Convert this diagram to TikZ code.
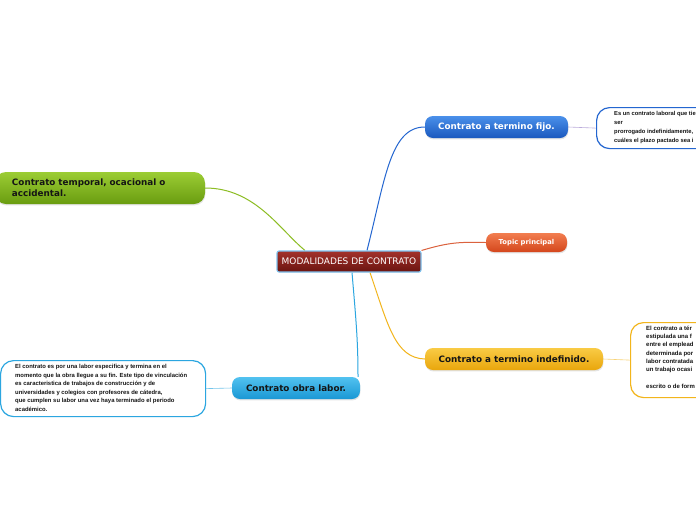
\documentclass[tikz,border=0pt]{standalone}
\usepackage{fontspec}
\setmainfont{DejaVu Sans}
\newfontfamily\smallf{Liberation Sans}
\usetikzlibrary{shadows,backgrounds}
\definecolor{cred1}{HTML}{A3322B}
\definecolor{cred2}{HTML}{6B1410}
\definecolor{selb}{HTML}{7EC3F0}
\definecolor{blue1}{HTML}{4A90EA}
\definecolor{blue2}{HTML}{1A58BE}
\definecolor{blueln}{HTML}{2466D0}
\definecolor{ora1}{HTML}{F27E50}
\definecolor{ora2}{HTML}{D4461C}
\definecolor{yel1}{HTML}{F9CB45}
\definecolor{yel2}{HTML}{E9A60C}
\definecolor{yelln}{HTML}{F2B51C}
\definecolor{lb1}{HTML}{52C2F0}
\definecolor{lb2}{HTML}{1A97D4}
\definecolor{lbln}{HTML}{2BA6E0}
\definecolor{gr1}{HTML}{9CCD34}
\definecolor{gr2}{HTML}{699C10}
\definecolor{grln}{HTML}{8DBD24}
\definecolor{txtd}{HTML}{151515}
\tikzset{
  topic/.style={rounded corners=8pt, inner sep=0pt, align=center,
    font=\bfseries\fontsize{8.8}{10.5}\selectfont,
    drop shadow={opacity=0.22, shadow xshift=0.4pt, shadow yshift=-1.4pt}},
  notebox/.style={draw, fill=white, rounded corners=13pt, line width=1.2pt, inner sep=0pt},
  notetext/.style={inner sep=0pt, anchor=north west, align=left,
    font=\smallf\bfseries\fontsize{5.9}{8.5}\selectfont, text=txtd},
  conn/.style={line width=1pt},
  thin/.style={line width=0.6pt}
}
\begin{document}
\begin{tikzpicture}[x=1pt,y=-1pt]
\useasboundingbox (0,0) rectangle (696,520);
\clip (0,0) rectangle (696,520);

% white note boxes
\node[notebox, draw=blueln, minimum width=220pt, minimum height=41pt, anchor=north west] (fb) at (596,107) {};
\node[notebox, draw=yelln, minimum width=220pt, minimum height=75pt, anchor=north west] (ib) at (630,322) {};
\node[notebox, draw=lbln, minimum width=205pt, minimum height=56pt, anchor=north west] (lb) at (0,360) {};

\node[notetext, font=\smallf\bfseries\fontsize{5.8}{8.7}\selectfont] (fbt) at (614,111.5) {Es un contrato laboral que tie\\ser\\prorrogado indefinidamente,\\cuáles el plazo pactado sea i};
\node[notetext, font=\smallf\bfseries\fontsize{6}{8.35}\selectfont] (ibt) at (646,325.5) {El contrato a tér\\estipulada una f\\entre el emplead\\determinada por\\labor contratada\\un trabajo ocasi\\[8.35pt]escrito o de form};
\node[notetext] (lbt) at (15,364.5) {El contrato es por una labor especifica y termina en el\\momento que la obra llegue a su fin. Este tipo de vinculación\\es caracteristica de trabajos de construcción y de\\universidades y colegios con profesores de cátedra,\\que cumplen su labor una vez haya terminado el periodo\\académico.};

% topic nodes
\node[topic, top color=blue1, bottom color=blue2, text=white, minimum width=143pt, minimum height=22pt] (fijo) at (496.5,127) {Contrato a termino fijo.};
\node[topic, top color=ora1, bottom color=ora2, text=white, minimum width=81pt, minimum height=19pt, font=\bfseries\fontsize{6.8}{8}\selectfont] (tp) at (526.5,242.5) {Topic principal};
\node[topic, top color=yel1, bottom color=yel2, text=txtd, minimum width=178pt, minimum height=22pt] (ind) at (514,359) {Contrato a termino indefinido.};
\node[topic, top color=lb1, bottom color=lb2, text=txtd, minimum width=128pt, minimum height=22pt] (ob) at (296,388) {Contrato obra labor.};
\node[topic, top color=gr1, bottom color=gr2, text=txtd, minimum width=210pt, minimum height=32pt, rounded corners=11pt, align=left, text width=176pt, font=\bfseries\fontsize{8.8}{10.8}\selectfont] (tem) at (100,188) {Contrato temporal, ocacional o\\accidental.};

% central
\node[draw=selb, line width=1.1pt, top color=cred1, bottom color=cred2, text=white, rounded corners=2pt, minimum width=144pt, minimum height=21pt, inner sep=0pt, font=\fontsize{9}{10}\selectfont] (ce) at (349,261.5) {MODALIDADES DE CONTRATO};

% connectors
\begin{scope}[on background layer]
\fill[white] (0,0) rectangle (696,520);
\draw[conn, blueln] ([xshift=18pt]ce.north) .. controls (385,180) and (390,127) .. (fijo.west);
\draw[conn, ora2!85] (ce.north east) .. controls (450,242) and (460,242) .. (tp.west);
\draw[conn, yelln] ([xshift=21pt]ce.south) .. controls (388,325) and (395,358) .. (ind.west);
\draw[conn, lbln] ([xshift=3pt]ce.south) .. controls (356,320) and (358,340) .. ([xshift=62pt]ob.north);
\draw[conn, grln] ([xshift=-44pt]ce.north) .. controls (280,230) and (255,188) .. (tem.east);
\draw[thin, blueln!45!violet!40] (fijo.east) -- (fb.west);
\draw[thin, yelln!60] (ind.east) -- (ib.west);
\draw[thin, lbln!65] (ob.west) -- (lb.east);
\end{scope}
\end{tikzpicture}
\end{document}
